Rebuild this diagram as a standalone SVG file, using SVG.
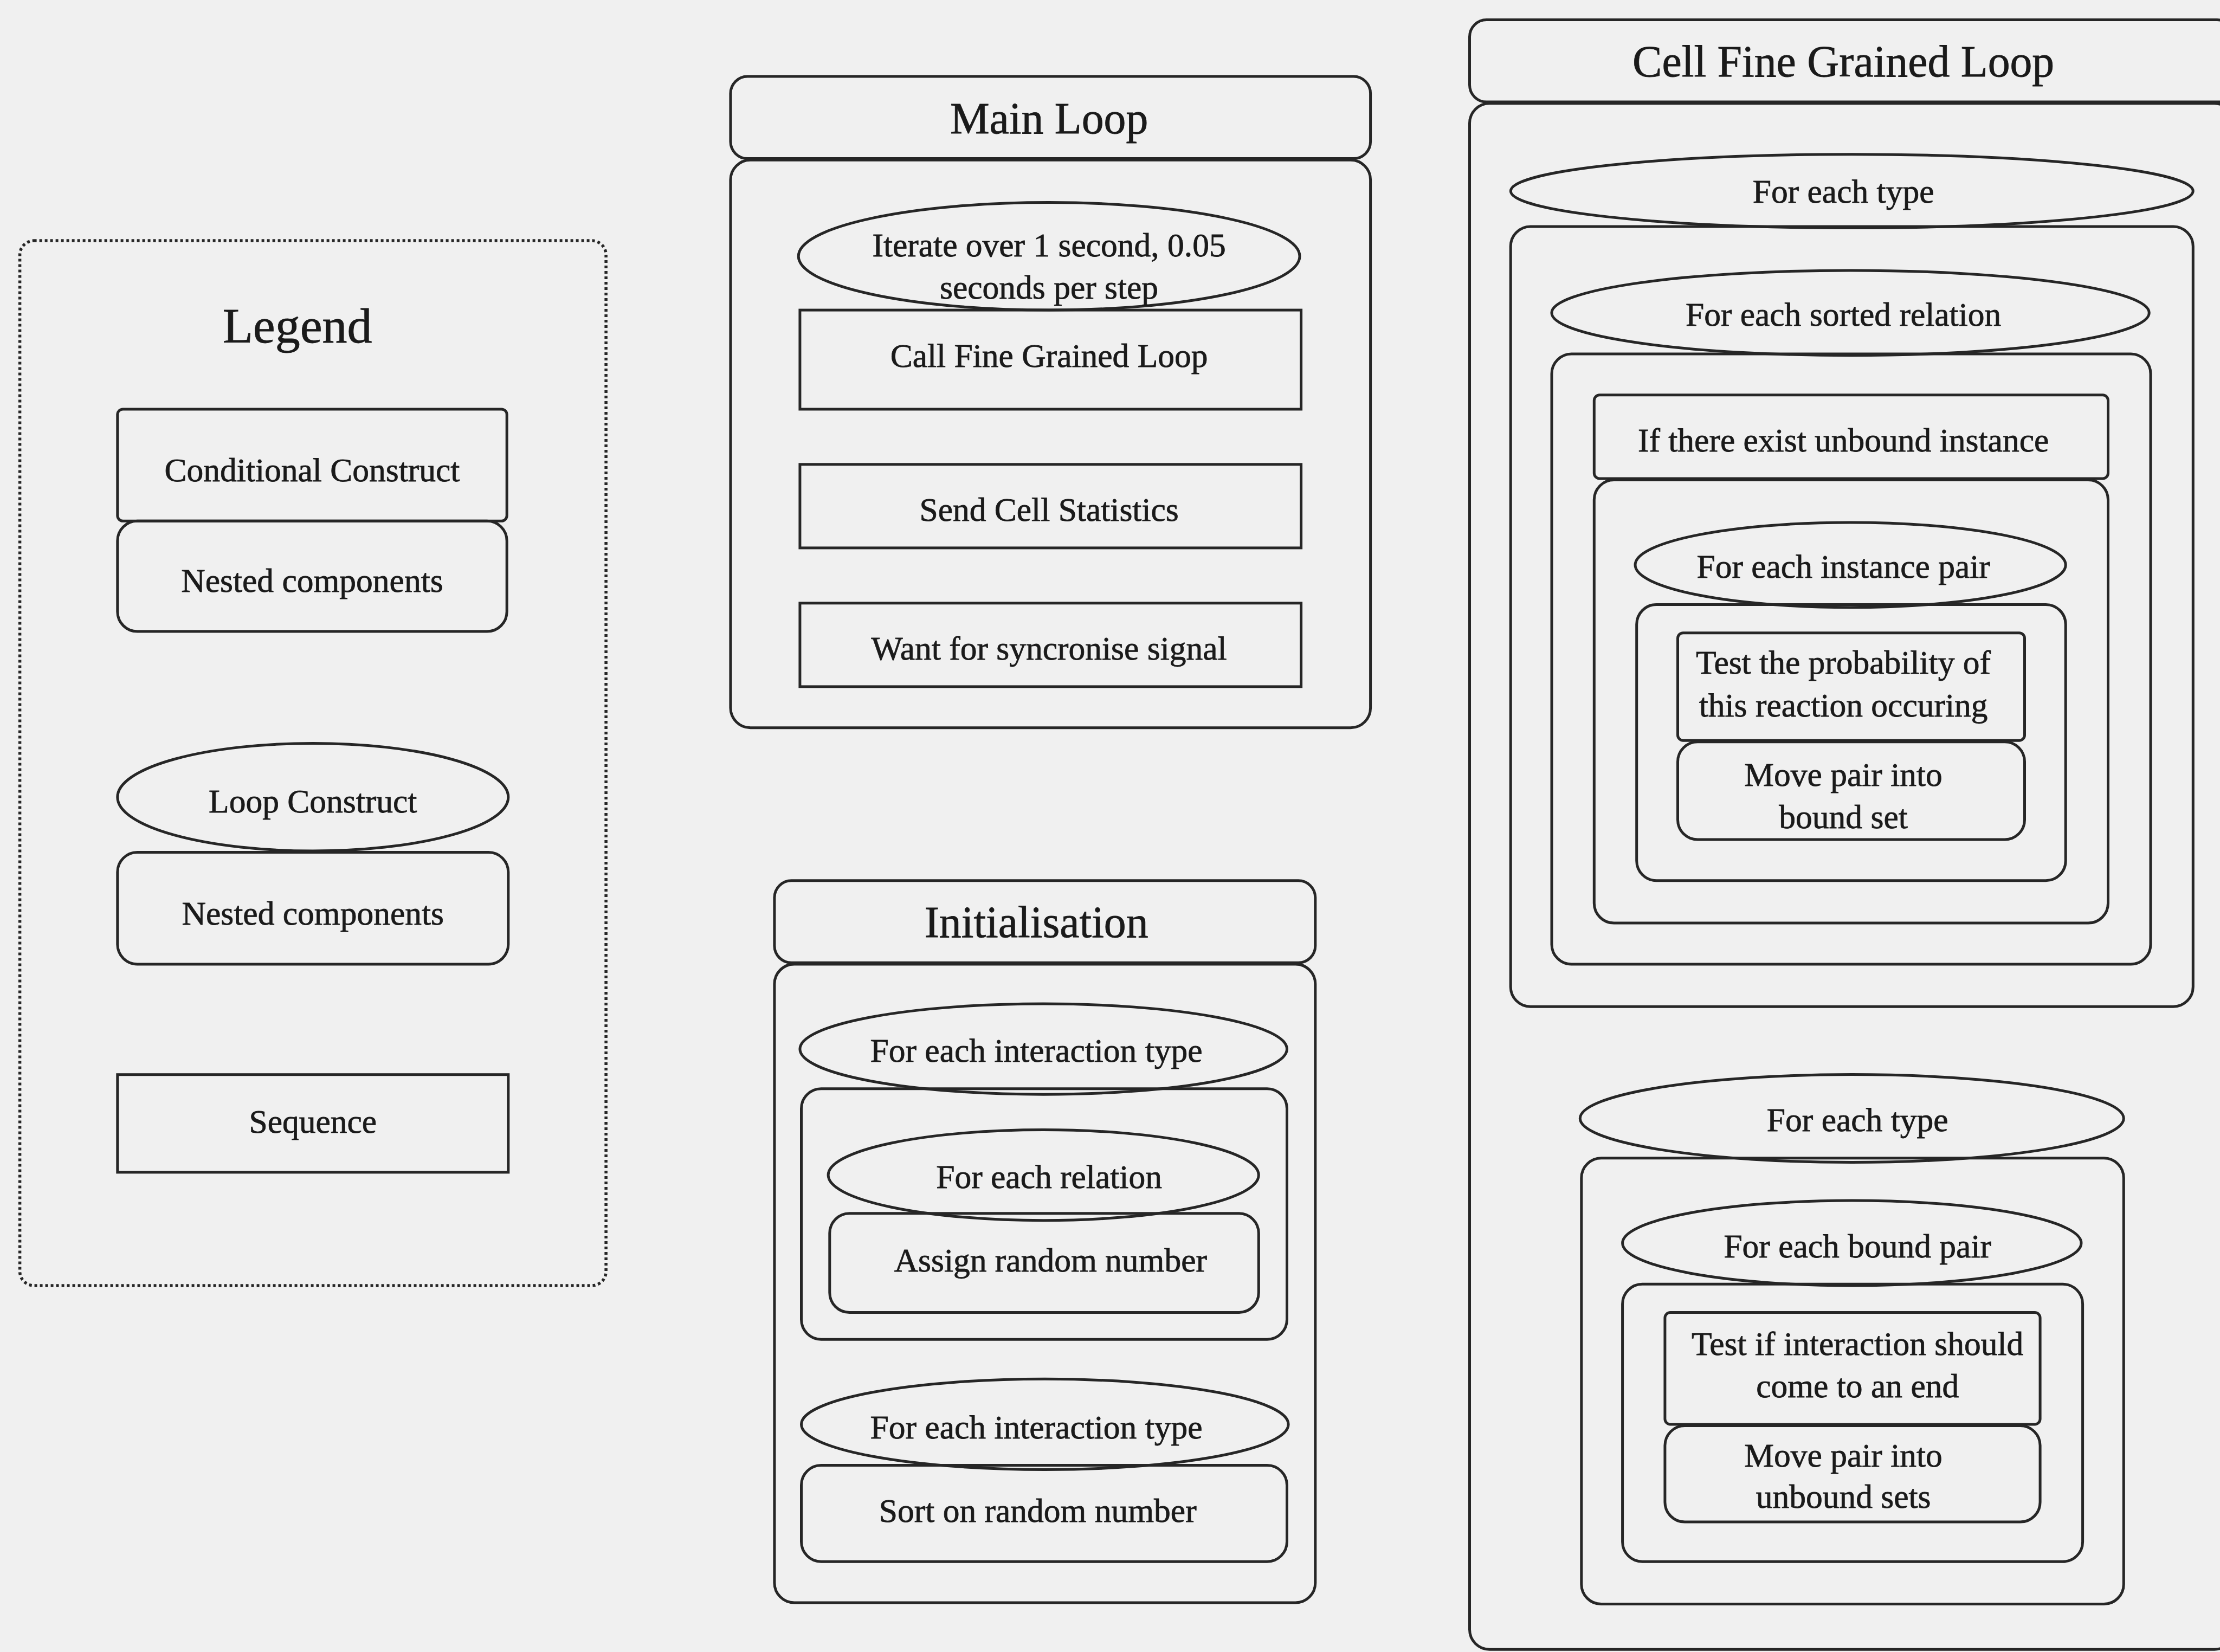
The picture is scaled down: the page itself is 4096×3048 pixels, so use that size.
<svg xmlns="http://www.w3.org/2000/svg" width="4096" height="3048" viewBox="0 0 4096 3048">
  <style>
    .bg { fill: #f0f0f0; }
    .box { fill: none; stroke: #262626; stroke-width: 5; }
    .dots { fill: none; stroke: #262626; stroke-width: 5.5; stroke-dasharray: 5 5; }
    .t { font-family: "Liberation Serif", "Times New Roman", serif; font-size: 61.5px; fill: #1a1a1a; stroke: #1a1a1a; stroke-width: 0.8; text-anchor: middle; }
    .h { font-size: 81.7px; }
    .lg { font-size: 92px; }
  </style>
  <rect class="bg" x="0" y="0" width="4096" height="3048"/>

  <!-- Legend panel -->
  <g id="legend">
    <rect class="dots" x="36.6" y="444.1" width="1081.5" height="1927.8" rx="26"/>
    <text class="t lg" x="548.6" y="632.2">Legend</text>
    <g id="legend-conditional">
      <rect class="box" x="216.8" y="754.9" width="718.4" height="206.4" rx="10"/>
      <text class="t" x="576" y="888.1">Conditional Construct</text>
    </g>
    <g id="legend-nested-1">
      <rect class="box" x="216.8" y="961.3" width="718.4" height="203.8" rx="36.6"/>
      <text class="t" x="576" y="1091.9">Nested components</text>
    </g>
    <g id="legend-loop">
      <ellipse class="box" cx="577.3" cy="1470.7" rx="360.5" ry="99.3"/>
      <text class="t" x="577.3" y="1499.4">Loop Construct</text>
    </g>
    <g id="legend-nested-2">
      <rect class="box" x="216.8" y="1572.5" width="721" height="206.4" rx="36.6"/>
      <text class="t" x="577.3" y="1705.8">Nested components</text>
    </g>
    <g id="legend-sequence">
      <rect class="box" x="216.8" y="1982.7" width="721" height="180.2"/>
      <text class="t" x="577.3" y="2089.8">Sequence</text>
    </g>
  </g>

  <!-- Main Loop -->
  <g id="main-loop">
    <rect class="box" x="1347.9" y="141.1" width="1180.7" height="151.5" rx="31.3"/>
    <text class="t h" x="1935.6" y="245.5">Main Loop</text>
    <rect class="box" x="1347.9" y="295.2" width="1180.7" height="1047.5" rx="36.6"/>
    <g id="main-iterate">
      <ellipse class="box" cx="1935.6" cy="472.8" rx="462.4" ry="99.3"/>
      <text class="t" x="1935.6" y="472.8">Iterate over 1 second, 0.05</text>
      <text class="t" x="1935.6" y="551.2">seconds per step</text>
    </g>
    <g id="main-call">
      <rect class="box" x="1475.9" y="572.1" width="924.7" height="182.9"/>
      <text class="t" x="1935.6" y="676.6">Call Fine Grained Loop</text>
    </g>
    <g id="main-send">
      <rect class="box" x="1475.9" y="856.8" width="924.7" height="154.1"/>
      <text class="t" x="1935.6" y="961.3">Send Cell Statistics</text>
    </g>
    <g id="main-wait">
      <rect class="box" x="1475.9" y="1112.8" width="924.7" height="154.1"/>
      <text class="t" x="1935.6" y="1217.3">Want for syncronise signal</text>
    </g>
  </g>

  <!-- Initialisation -->
  <g id="initialisation">
    <rect class="box" x="1428.9" y="1624.8" width="997.9" height="151.5" rx="31.3"/>
    <text class="t h" x="1912.1" y="1729.3">Initialisation</text>
    <rect class="box" x="1428.9" y="1778.9" width="997.9" height="1178.1" rx="36.6"/>
    <g id="init-loop-type-1">
      <ellipse class="box" cx="1925.2" cy="1935.6" rx="449.3" ry="83.6"/>
      <text class="t" x="1912.1" y="1959.2">For each interaction type</text>
    </g>
    <rect class="box" x="1478.5" y="2008.8" width="896" height="462.4" rx="36.6"/>
    <g id="init-loop-relation">
      <ellipse class="box" cx="1925.2" cy="2168.1" rx="397.1" ry="83.6"/>
      <text class="t" x="1935.6" y="2191.6">For each relation</text>
    </g>
    <g id="init-assign">
      <rect class="box" x="1530.8" y="2238.7" width="791.5" height="182.9" rx="36.6"/>
      <text class="t" x="1938.3" y="2345.8">Assign random number</text>
    </g>
    <g id="init-loop-type-2">
      <ellipse class="box" cx="1927.8" cy="2627.9" rx="449.3" ry="83.6"/>
      <text class="t" x="1912.1" y="2654">For each interaction type</text>
    </g>
    <g id="init-sort">
      <rect class="box" x="1478.5" y="2703.6" width="896" height="177.6" rx="36.6"/>
      <text class="t" x="1914.7" y="2808.1">Sort on random number</text>
    </g>
  </g>

  <!-- Cell Fine Grained Loop -->
  <g id="cell-loop">
    <rect class="box" x="2711.5" y="36.6" width="1410.6" height="151.5" rx="31.3"/>
    <text class="t h" x="3401.1" y="141.1">Cell Fine Grained Loop</text>
    <rect class="box" x="2711.5" y="190.7" width="1410.6" height="2852.5" rx="36.6"/>

    <g id="cell-binding">
      <g id="cell-loop-type-1">
        <ellipse class="box" cx="3416.8" cy="352.6" rx="629.5" ry="67.9"/>
        <text class="t" x="3401.1" y="373.5">For each type</text>
      </g>
      <rect class="box" x="2787.2" y="418" width="1259.1" height="1439.3" rx="36.6"/>
      <g id="cell-loop-sorted">
        <ellipse class="box" cx="3414.1" cy="577.3" rx="551.2" ry="78.4"/>
        <text class="t" x="3401.1" y="600.8">For each sorted relation</text>
      </g>
      <rect class="box" x="2863" y="653.1" width="1105" height="1125.9" rx="36.6"/>
      <g id="cell-if-unbound">
        <rect class="box" x="2941.3" y="728.8" width="948.2" height="154.1" rx="10"/>
        <text class="t" x="3401.1" y="833.3">If there exist unbound instance</text>
      </g>
      <rect class="box" x="2941.3" y="885.5" width="948.2" height="817.6" rx="36.6"/>
      <g id="cell-loop-instance">
        <ellipse class="box" cx="3414.1" cy="1042.3" rx="397.1" ry="78.4"/>
        <text class="t" x="3401.1" y="1065.8">For each instance pair</text>
      </g>
      <rect class="box" x="3019.7" y="1115.4" width="791.5" height="509.4" rx="36.6"/>
      <g id="cell-test-probability">
        <rect class="box" x="3095.5" y="1167.7" width="640" height="198.5" rx="10"/>
        <text class="t" x="3401.1" y="1243.4">Test the probability of</text>
        <text class="t" x="3401.1" y="1321.8">this reaction occuring</text>
      </g>
      <g id="cell-move-bound">
        <rect class="box" x="3095.5" y="1368.8" width="640" height="180.2" rx="36.6"/>
        <text class="t" x="3401.1" y="1449.8">Move pair into</text>
        <text class="t" x="3401.1" y="1528.1">bound set</text>
      </g>
    </g>

    <g id="cell-unbinding">
      <g id="cell-loop-type-2">
        <ellipse class="box" cx="3416.8" cy="2063.6" rx="501.5" ry="81"/>
        <text class="t" x="3427.2" y="2087.2">For each type</text>
      </g>
      <rect class="box" x="2917.8" y="2136.8" width="1000.5" height="822.8" rx="36.6"/>
      <g id="cell-loop-bound">
        <ellipse class="box" cx="3416.8" cy="2293.5" rx="423.2" ry="78.4"/>
        <text class="t" x="3427.2" y="2319.6">For each bound pair</text>
      </g>
      <rect class="box" x="2993.6" y="2369.3" width="849" height="512" rx="36.6"/>
      <g id="cell-test-end">
        <rect class="box" x="3071.9" y="2421.5" width="692.2" height="206.4" rx="10"/>
        <text class="t" x="3427.2" y="2499.9">Test if interaction should</text>
        <text class="t" x="3427.2" y="2578.2">come to an end</text>
      </g>
      <g id="cell-move-unbound">
        <rect class="box" x="3071.9" y="2630.5" width="692.2" height="177.6" rx="36.6"/>
        <text class="t" x="3401.1" y="2706.2">Move pair into</text>
        <text class="t" x="3401.1" y="2782">unbound sets</text>
      </g>
    </g>
  </g>
</svg>
